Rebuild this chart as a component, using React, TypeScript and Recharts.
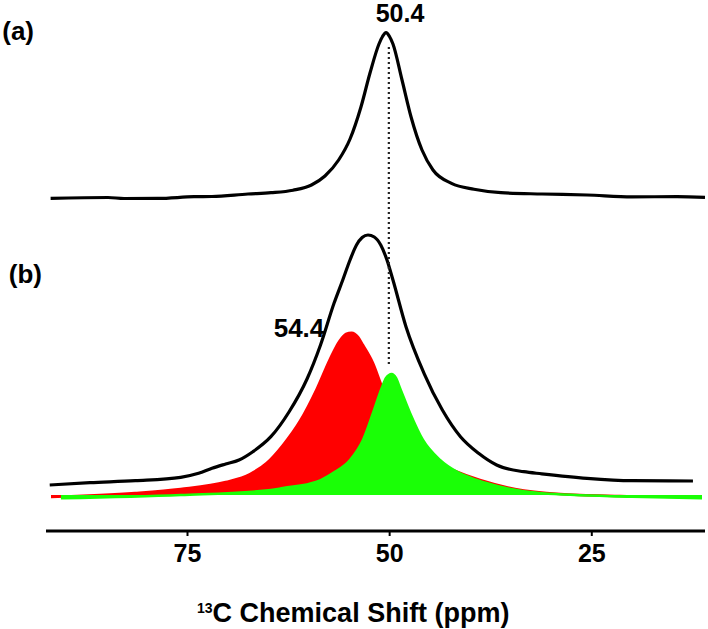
import React from 'react'
import { ComposedChart, Line, Area, XAxis, YAxis, ReferenceLine, ReferenceDot, Label } from 'recharts'

// spectrum (a): chemical shift (ppm) and intensity (offset trace)
const shiftA = [91.93, 84.83, 82.85, 78.65, 74.2, 71.97, 67.52, 64.67, 61.95, 59.67, 58.0, 56.31, 54.9, 53.54, 52.43, 51.32, 50.88, 50.45, 50.02, 49.59, 48.47, 47.36, 46.0, 44.64, 42.35, 39.57, 36.23, 31.16, 25.59, 20.03, 14.46, 11.0]
const intensityA = [332.7, 333.5, 332.5, 332.6, 334.3, 334.5, 337, 338.3, 340.8, 346, 355, 371, 392, 424.3, 458, 487, 494.5, 498.3, 494.5, 487, 451, 414.3, 381, 361, 347.7, 341.7, 338.3, 337, 336, 334.2, 334.3, 333.7]

// spectrum (b): experimental envelope
const shiftB = [92.04, 87.06, 81.44, 75.85, 73.63, 71.97, 70.28, 68.63, 66.92, 64.69, 62.45, 60.22, 58.55, 56.88, 55.8, 54.9, 54.1, 53.4, 52.68, 51.9, 51.1, 50.33, 49.59, 47.98, 45.75, 43.48, 41.24, 39.0, 36.77, 33.42, 31.18, 25.59, 20.03, 12.49]
const intensityB = [46, 48.3, 50.3, 53.7, 57.7, 62.7, 67, 71, 79.3, 94.3, 119, 152, 186, 227.7, 251, 271, 286, 293.5, 296, 294, 286, 271, 251, 204.3, 157.7, 121, 94.3, 77.7, 66, 59.3, 57.2, 52.7, 50.3, 50]

// deconvoluted component at 54.4 ppm (red)
const shiftRed = [91.88, 81.49, 75.85, 70.28, 67.27, 65.21, 63.19, 61.09, 59.02, 57.38, 56.2, 55.4, 54.7, 53.9, 53.3, 52.06, 50.98, 49.96, 48.72, 46.87, 45.01, 42.54, 38.83, 34.5, 28.93, 21.51, 11.62]
const intensityRed = [34, 38, 42, 49, 57, 68, 86, 110, 142, 172, 190, 197, 198.3, 194, 186, 168, 145, 126, 106, 86, 71, 62, 51, 42, 37, 35, 34]

// deconvoluted component at 50.4 ppm (green)
const shiftGreen = [90.65, 75.85, 64.67, 63.19, 59.02, 57.01, 54.9, 53.3, 52.06, 50.98, 50.45, 49.75, 49.22, 48.72, 47.48, 45.88, 43.77, 41.71, 39.24, 36.35, 31.18, 20.03, 11.37]
const intensityGreen = [32.7, 36, 41, 43, 49.3, 58, 71, 91, 118, 143, 153, 157, 153, 143, 118, 91, 71, 59.3, 51, 44.3, 37.7, 34.3, 32.7]

const xTicks = [75, 50, 25]
const peakLine = { shift: 50.1, from: 484, to: 166 }

const toPoints = (shift: number[], inten: number[]) => shift.map((s, i) => ({ ppm: s, y: inten[i] }))

const traceA = toPoints(shiftA, intensityA)
const traceB = toPoints(shiftB, intensityB)
const redFit = toPoints(shiftRed, intensityRed)
const greenFit = toPoints(shiftGreen, intensityGreen)

const FONT = '"Liberation Sans", Arial, Helvetica, sans-serif'
const labelStyle = { fill: '#000', fontSize: 26, fontWeight: 700, fontFamily: FONT }

const AxisTitle = () => (
  <text x={197} y={622} textAnchor="start" fill="#000" fontFamily={FONT} fontWeight={700}>
    <tspan fontSize={14} dy={-9}>13</tspan>
    <tspan fontSize={27} dy={9}>C Chemical Shift (ppm)</tspan>
  </text>
)

export default function App() {
  return (
    <div style={{ position: 'absolute', left: 0, top: 0, width: 708, height: 629, background: '#fff' }}>
      <ComposedChart width={708} height={629} margin={{ top: 8, right: 3, bottom: 0, left: 46 }}>
        <XAxis
          type="number"
          dataKey="ppm"
          domain={[11, 92.5]}
          reversed
          allowDataOverflow
          ticks={xTicks}
          height={98}
          axisLine={{ stroke: '#000', strokeWidth: 3 }}
          tickLine={{ stroke: '#000', strokeWidth: 2 }}
          tickSize={5}
          tickMargin={8}
          tick={{ fill: '#000', fontSize: 25, fontWeight: 700, fontFamily: FONT }}
        >
          <Label content={() => <AxisTitle />} />
        </XAxis>
        <YAxis hide type="number" domain={[0, 523]} allowDataOverflow />

        <Area
          data={redFit}
          dataKey="y"
          type="monotone"
          baseValue={36}
          fill="#ff0000"
          fillOpacity={1}
          stroke="#ff0000"
          strokeWidth={2.5}
          dot={false}
          activeDot={false}
          isAnimationActive={false}
        />
        <Area
          data={greenFit}
          dataKey="y"
          type="monotone"
          baseValue={36}
          fill="#1aff06"
          fillOpacity={1}
          stroke="#1aff06"
          strokeWidth={2.5}
          dot={false}
          activeDot={false}
          isAnimationActive={false}
        />
        <Line data={traceA} dataKey="y" type="monotone" stroke="#000" strokeWidth={3.2} dot={false} activeDot={false} isAnimationActive={false} />
        <Line data={traceB} dataKey="y" type="monotone" stroke="#000" strokeWidth={3.2} dot={false} activeDot={false} isAnimationActive={false} />

        <ReferenceLine
          segment={[{ x: peakLine.shift, y: peakLine.from }, { x: peakLine.shift, y: peakLine.to }]}
          stroke="#222"
          strokeWidth={2.2}
          strokeDasharray="2 3"
        />

        <ReferenceDot x={92.5} y={500.5} r={0} fill="none" stroke="none" label={{ value: '(a)', position: 'left', offset: 12, ...labelStyle }} />
        <ReferenceDot x={92.5} y={257.5} r={0} fill="none" stroke="none" label={{ value: '(b)', position: 'left', offset: 4, ...labelStyle }} />
        <ReferenceDot x={48.72} y={517.5} r={0} fill="none" stroke="none" ifOverflow="visible" label={{ value: '50.4', position: 'center', ...labelStyle, fontSize: 25 }} />
        <ReferenceDot x={61.21} y={203.5} r={0} fill="none" stroke="none" label={{ value: '54.4', position: 'center', ...labelStyle }} />
      </ComposedChart>
    </div>
  )
}
